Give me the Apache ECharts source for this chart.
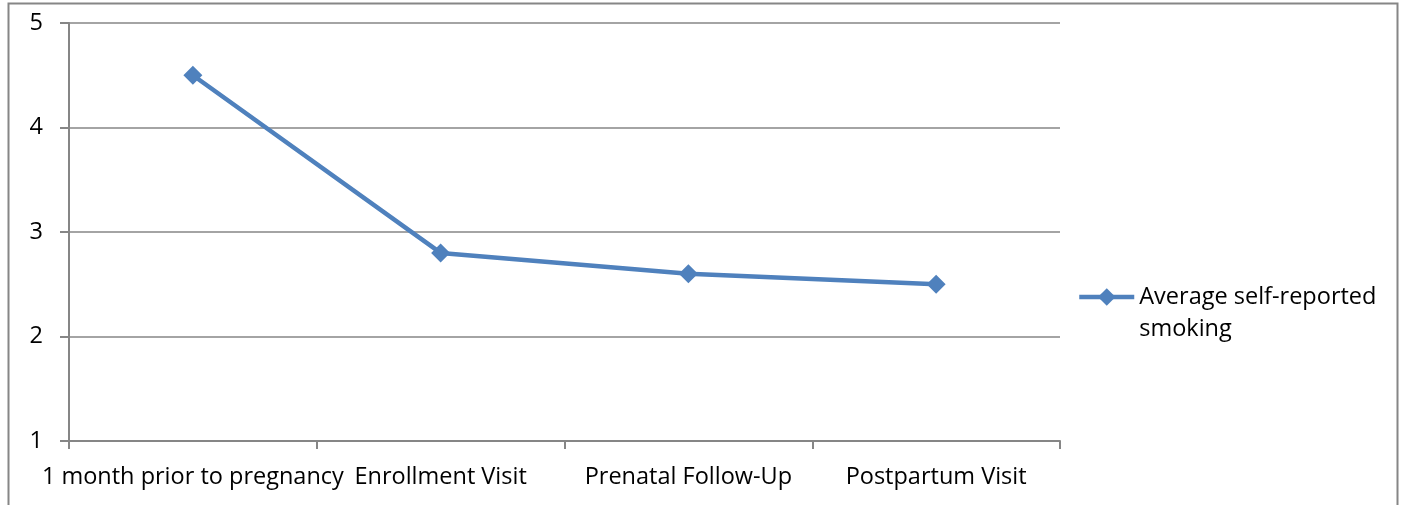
<!DOCTYPE html>
<html>
<head>
<meta charset="utf-8">
<script src="https://cdn.jsdelivr.net/npm/echarts@6/dist/echarts.min.js"></script>
<style>
  html, body { margin: 0; padding: 0; background: #fff; }
  #chart { width: 1403px; height: 505px; }
</style>
</head>
<body>
<div id="chart"></div>
<script>
// Visit points along the study timeline
const categories = ['1 month prior to pregnancy', 'Enrollment Visit', 'Prenatal Follow-Up', 'Postpartum Visit'];
// Mean self-reported smoking at each visit
const smokingValues = [4.5, 2.8, 2.6, 2.5];
const seriesName = 'Average self-reported smoking';
// Value axis range
const yMin = 1, yMax = 5, yStep = 1;

const FONT = '"Open Sans", "Liberation Sans", sans-serif';
const FS = 23.5;
const GRAY = '#868686';
const BLUE = '#4F81BD';

const chart = echarts.init(document.getElementById('chart'), null, { renderer: 'canvas' });
chart.setOption({
  animation: false,
  backgroundColor: '#fff',
  graphic: [{
    type: 'rect',
    shape: { x: 8.5, y: 3.5, width: 1389, height: 520 },
    style: { fill: 'none', stroke: GRAY, lineWidth: 2 },
    silent: true, z: -1
  }],
  grid: { left: 69, top: 23, right: 343, bottom: 64, containLabel: false },
  legend: {
    data: [seriesName],
    orient: 'vertical',
    left: 1072,
    top: 244,
    itemWidth: 55,
    itemHeight: 22,
    itemGap: 0,
    lineStyle: { width: 4.5 },
    // leading blank line keeps the first text line level with the icon
    formatter: () => '\nAverage self-reported\nsmoking',
    textStyle: { fontFamily: FONT, fontSize: FS, color: '#000', lineHeight: 32 }
  },
  xAxis: {
    type: 'category',
    data: categories,
    boundaryGap: true,
    axisLine: { lineStyle: { color: GRAY, width: 2 } },
    axisTick: { show: true, length: 8, lineStyle: { color: GRAY, width: 2 } },
    axisLabel: { fontFamily: FONT, fontSize: FS, color: '#000', margin: 24, interval: 0 },
    splitLine: { show: false }
  },
  yAxis: {
    type: 'value',
    min: yMin, max: yMax, interval: yStep,
    axisLine: { show: true, lineStyle: { color: GRAY, width: 2 } },
    axisTick: { show: true, length: 9, lineStyle: { color: GRAY, width: 2 } },
    axisLabel: { fontFamily: FONT, fontSize: FS, color: '#000', margin: 26 },
    splitLine: { show: true, lineStyle: { color: GRAY, width: 1.5 } }
  },
  series: [{
    name: seriesName,
    type: 'line',
    data: smokingValues,
    symbol: 'diamond',
    symbolSize: 19,
    lineStyle: { color: BLUE, width: 4.5 },
    itemStyle: { color: BLUE },
    z: 5
  }]
});
</script>
</body>
</html>
